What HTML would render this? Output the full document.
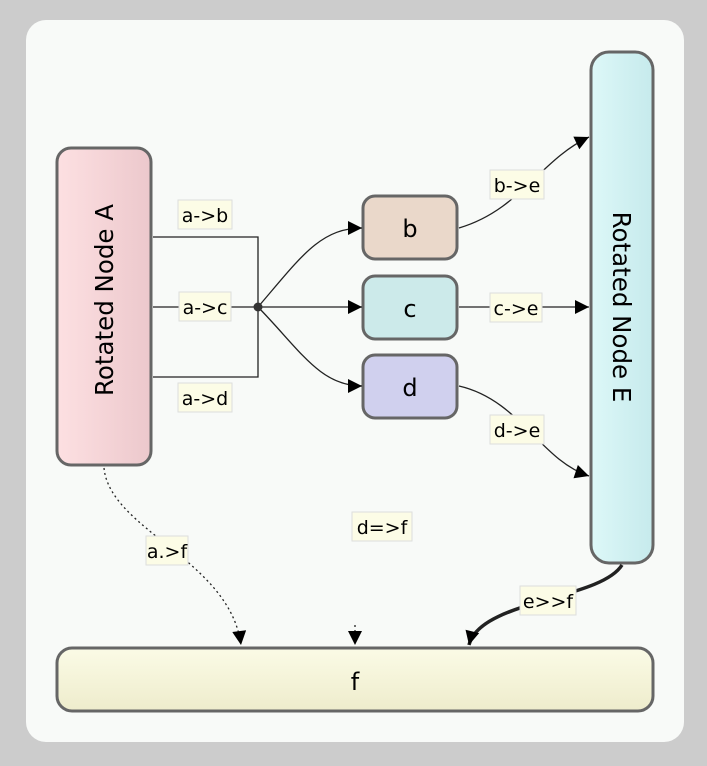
<!DOCTYPE html>
<html><head><style>
html,body{margin:0;padding:0;background:#cccccc;}
svg{display:block;font-family:"DejaVu Sans","Liberation Sans",sans-serif;}
</style></head><body>
<svg width="707" height="766" viewBox="0 0 707 766" xmlns="http://www.w3.org/2000/svg">
<defs>
<linearGradient id="ga" x1="0" x2="1"><stop offset="0" stop-color="#fde0e2"/><stop offset="1" stop-color="#ecc8cc"/></linearGradient>
<linearGradient id="ge" x1="0" x2="1"><stop offset="0" stop-color="#ddf8f8"/><stop offset="1" stop-color="#c6eaec"/></linearGradient>
<linearGradient id="gf" x1="0" y1="0" x2="0" y2="1"><stop offset="0" stop-color="#fbfbe6"/><stop offset="1" stop-color="#eeeccc"/></linearGradient>
<marker id="ar" viewBox="0 0 10 10" refX="10" refY="5" markerWidth="18" markerHeight="14" markerUnits="userSpaceOnUse" orient="auto"><path d="M0,0L10,5L0,10z" fill="#000"/></marker>
</defs>
<rect x="26" y="20" width="658" height="722" rx="20" fill="#f8faf8"/>
<rect x="57" y="148" width="94" height="317" rx="14" fill="url(#ga)" stroke="#666" stroke-width="3"/>
<text transform="translate(113,300) rotate(-90)" text-anchor="middle" font-size="24.5" fill="#000">Rotated Node A</text>
<rect x="591" y="52" width="62" height="511" rx="18" fill="url(#ge)" stroke="#666" stroke-width="3"/>
<text transform="translate(613,307) rotate(90)" text-anchor="middle" font-size="24.5" fill="#000">Rotated Node E</text>
<rect x="363" y="196" width="94" height="63" rx="12" fill="#ead8ca" stroke="#666" stroke-width="3"/>
<text x="410" y="237" text-anchor="middle" font-size="24">b</text>
<rect x="363" y="276" width="94" height="63" rx="12" fill="#cceaea" stroke="#666" stroke-width="3"/>
<text x="410" y="317" text-anchor="middle" font-size="24">c</text>
<rect x="363" y="355" width="94" height="63" rx="12" fill="#d0d0ee" stroke="#666" stroke-width="3"/>
<text x="410" y="396" text-anchor="middle" font-size="24">d</text>
<rect x="57" y="648" width="596" height="63" rx="15" fill="url(#gf)" stroke="#666" stroke-width="3"/>
<text x="355" y="690" text-anchor="middle" font-size="24">f</text>
<g fill="none" stroke="#222" stroke-width="1.3">
<path d="M153,237H258V377H153M153,307H258"/>
<path d="M258,307C300,258 320,228 362,228" marker-end="url(#ar)"/>
<path d="M258,307H362" marker-end="url(#ar)"/>
<path d="M258,307C300,350 320,386 362,386" marker-end="url(#ar)"/>
<path d="M459,228C520,210 540,160 589,137" marker-end="url(#ar)"/>
<path d="M459,307H589" marker-end="url(#ar)"/>
<path d="M459,386C520,400 540,460 589,476" marker-end="url(#ar)"/>
<path d="M104,468C110,530 230,560 241,645" stroke-dasharray="2,3" marker-end="url(#ar)"/>
<path d="M355,625V645" stroke-dasharray="2,3" marker-end="url(#ar)"/>
<path d="M622,565C600,600 480,600 469,645" stroke-width="3.5" marker-end="url(#ar)"/>
</g>
<circle cx="258" cy="307" r="4.5" fill="#333"/>
<g font-size="19" fill="#000" text-anchor="middle">
<rect x="178" y="200" width="54" height="29" fill="#fcfce6" stroke="#ddd"/><text x="205" y="222">a-&gt;b</text>
<rect x="179" y="292" width="52" height="29" fill="#fcfce6" stroke="#ddd"/><text x="205" y="314">a-&gt;c</text>
<rect x="178" y="383" width="54" height="29" fill="#fcfce6" stroke="#ddd"/><text x="205" y="405">a-&gt;d</text>
<rect x="490" y="170" width="54" height="29" fill="#fcfce6" stroke="#ddd"/><text x="517" y="192">b-&gt;e</text>
<rect x="490" y="293" width="52" height="29" fill="#fcfce6" stroke="#ddd"/><text x="516" y="315">c-&gt;e</text>
<rect x="490" y="415" width="54" height="29" fill="#fcfce6" stroke="#ddd"/><text x="517" y="437">d-&gt;e</text>
<rect x="146" y="536" width="42" height="29" fill="#fcfce6" stroke="#ddd"/><text x="167" y="558">a.&gt;f</text>
<rect x="352" y="512" width="60" height="29" fill="#fcfce6" stroke="#ddd"/><text x="382" y="534">d=&gt;f</text>
<rect x="520" y="586" width="56" height="29" fill="#fcfce6" stroke="#ddd"/><text x="548" y="608">e&gt;&gt;f</text>
</g>
</svg>
</body></html>
